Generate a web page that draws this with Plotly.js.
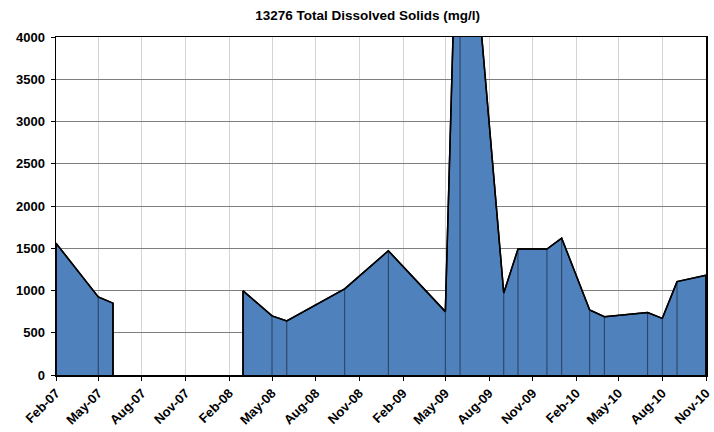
<!DOCTYPE html>
<html>
<head>
<meta charset="utf-8">
<script src="https://cdn.plot.ly/plotly-3.0.1.min.js"></script>
<style>html,body{margin:0;padding:0;background:#fff;}#chart{width:714px;height:432px;}</style>
</head>
<body>
<div id="chart"></div>
<script>
// Sample dates and TDS values (mg/l); null marks the gap with no samples
const sampleDates = [
  '2007-02-01','2007-05-01','2007-06-01', null,
  '2008-03-01','2008-05-01','2008-06-01','2008-10-01','2009-01-01',
  '2009-05-01','2009-06-01','2009-09-01','2009-10-01','2009-12-01',
  '2010-01-01','2010-03-01','2010-04-01','2010-07-01','2010-08-01',
  '2010-09-01','2010-11-01'
];
const tdsValues = [
  1560, 925, 850, null,
  995, 700, 640, 1020, 1470,
  750, 7000, 970, 1490, 1490,
  1620, 770, 690, 740, 670,
  1105, 1180
];
const chartTitle = '13276 Total Dissolved Solids (mg/l)';

// split into contiguous segments
const segments = [];
let cur = {x: [], y: []};
for (let i = 0; i < sampleDates.length; i++) {
  if (sampleDates[i] === null || tdsValues[i] === null) {
    if (cur.x.length) segments.push(cur);
    cur = {x: [], y: []};
  } else {
    cur.x.push(sampleDates[i]);
    cur.y.push(tdsValues[i]);
  }
}
if (cur.x.length) segments.push(cur);

const traces = [];
segments.forEach(s => {
  traces.push({
    type: 'scatter', mode: 'lines',
    x: [s.x[0]].concat(s.x, [s.x[s.x.length - 1]]),
    y: [0].concat(s.y, [0]),
    fill: 'toself', fillcolor: '#4F81BD',
    line: {color: '#000000', width: 1.5},
    hoverinfo: 'skip', showlegend: false
  });
});

// drop lines at each sample
const dx = [], dy = [];
for (let i = 0; i < sampleDates.length; i++) {
  if (sampleDates[i] === null || tdsValues[i] === null) continue;
  dx.push(sampleDates[i], sampleDates[i], null);
  dy.push(0, tdsValues[i], null);
}
traces.push({
  type: 'scatter', mode: 'lines', x: dx, y: dy,
  line: {color: 'rgba(30,40,60,0.75)', width: 1},
  hoverinfo: 'skip', showlegend: false
});

// redraw outline on top
segments.forEach(s => {
  traces.push({
    type: 'scatter', mode: 'lines',
    x: [s.x[0]].concat(s.x, [s.x[s.x.length - 1]]),
    y: [0].concat(s.y, [0]),
    line: {color: '#000000', width: 1.5},
    hoverinfo: 'skip', showlegend: false
  });
});

const tickFont = {family: '"Liberation Sans", Arial, sans-serif', size: 13, color: '#000', weight: 'bold'};

const layout = {
  width: 714, height: 432,
  margin: {l: 56, r: 8, t: 37, b: 57},
  paper_bgcolor: '#fff', plot_bgcolor: '#fff',
  showlegend: false,
  title: {
    text: '<b>' + chartTitle + '</b>',
    font: {family: '"Liberation Sans", Arial, sans-serif', size: 13.5, color: '#000'},
    x: 0.515, xanchor: 'center', y: 0.965, yanchor: 'middle'
  },
  xaxis: {
    type: 'date',
    range: ['2007-02-01', '2010-11-01'],
    tick0: '2007-02-01', dtick: 'M3', tickformat: '%b-%y',
    tickangle: -45,
    tickfont: tickFont,
    showgrid: true, gridcolor: '#d4d4d4', gridwidth: 1,
    showline: true, linecolor: '#000', linewidth: 1.5, mirror: true,
    ticks: 'outside', ticklen: 4, tickcolor: '#000',
    zeroline: false, fixedrange: true
  },
  yaxis: {
    range: [0, 4000], dtick: 500, tick0: 0,
    tickfont: tickFont,
    showgrid: true, gridcolor: '#7f7f7f', gridwidth: 1,
    showline: true, linecolor: '#000', linewidth: 1.5, mirror: true,
    ticks: 'outside', ticklen: 4, tickcolor: '#000',
    ticklabelstandoff: 3,
    zeroline: false, fixedrange: true
  }
};

Plotly.newPlot('chart', traces, layout, {displayModeBar: false, staticPlot: true});
</script>
</body>
</html>
